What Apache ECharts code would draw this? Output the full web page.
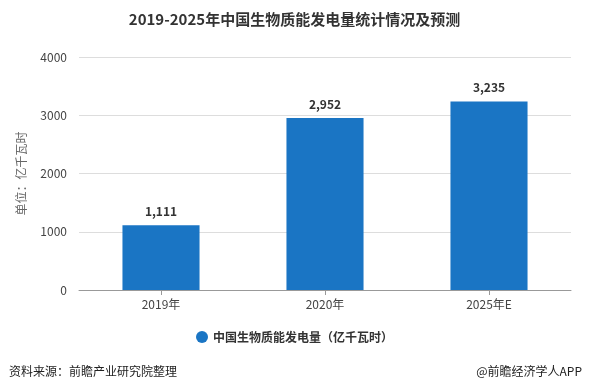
<!DOCTYPE html>
<html><head><meta charset="utf-8">
<script src="https://cdn.jsdelivr.net/npm/echarts@6/dist/echarts.min.js"></script>
<style>html,body{margin:0;padding:0;background:#fff}#c{width:589px;height:391px}</style>
</head><body><div id="c"></div>
<script>
var categories = ['2019年', '2020年', '2025年E'];
var values = [1111, 2952, 3235];
var seriesName = '中国生物质能发电量（亿千瓦时）';
var yTicks = [0, 1000, 2000, 3000, 4000];

var chart = echarts.init(document.getElementById('c'));
var font = '"Microsoft YaHei","Noto Sans CJK SC",sans-serif';
chart.setOption({
  backgroundColor: '#fff',
  animation: false,
  textStyle: {fontFamily: font},
  title: [{
    text: '2019-2025年中国生物质能发电量统计情况及预测',
    left: 'center', top: 7,
    textStyle: {fontSize: 15, fontWeight: 'bold', color: '#333', fontFamily: font}
  }, {
    text: '资料来源：前瞻产业研究院整理', left: 4, top: 360,
    textStyle: {fontSize: 12, fontWeight: 'normal', color: '#222', fontFamily: font}
  }, {
    text: '@前瞻经济学人APP', right: 2, top: 360,
    textStyle: {fontSize: 12, fontWeight: 'normal', color: '#222', fontFamily: font}
  }],
  legend: {
    data: [seriesName], top: 326, left: 'center', icon: 'circle',
    itemWidth: 12, itemHeight: 12,
    textStyle: {fontSize: 12, fontWeight: 'bold', color: '#333'}
  },
  grid: {left: 79, right: 18, top: 57, bottom: 101, containLabel: false},
  xAxis: {
    type: 'category', data: categories,
    axisLine: {lineStyle: {color: '#999'}},
    axisTick: {show: true, alignWithLabel: true, lineStyle: {color: '#999'}},
    axisLabel: {color: '#444', fontSize: 12, margin: 8}
  },
  yAxis: {
    type: 'value', min: yTicks[0], max: yTicks[yTicks.length - 1], interval: 1000,
    name: '单位：亿千瓦时', nameLocation: 'middle', nameGap: 52, nameRotate: 90,
    nameTextStyle: {color: '#666', fontSize: 12},
    axisLine: {show: false}, axisTick: {show: false},
    axisLabel: {color: '#444', fontSize: 12, margin: 12, formatter: function (v) { return String(v); }},
    splitLine: {lineStyle: {color: '#ddd'}}
  },
  series: [{
    name: seriesName, type: 'bar', data: values, barWidth: '47%',
    itemStyle: {color: '#1a75c4'},
    label: {show: true, position: 'top', distance: 8, color: '#333', fontWeight: 'bold', fontSize: 12,
      formatter: function (p) { return p.value.toLocaleString('en-US'); }}
  }]
});
</script></body></html>
